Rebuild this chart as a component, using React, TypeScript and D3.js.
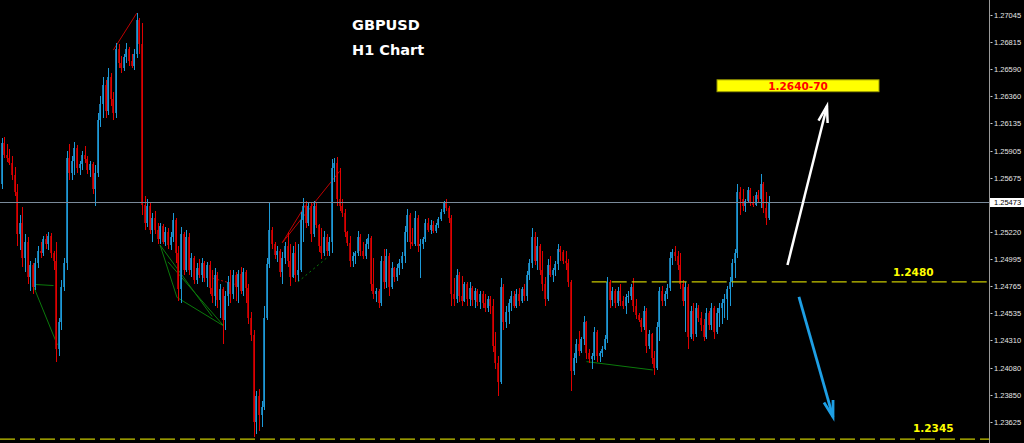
import React from 'react';
import * as d3 from 'd3';

const W = 1024;
const H = 443;

// ---- candle data (GBPUSD H1) ----
const opens = [
1.2562,1.2597,1.2587,1.2584,1.2580,1.2570,1.2556,1.2520,1.2530,1.2500,
1.2514,1.2484,1.2494,1.2476,1.2496,1.2506,1.2504,1.2516,1.2512,1.2519,
1.2504,1.2498,1.2424,1.2446,1.2476,1.2496,1.2584,1.2572,1.2582,1.2593,
1.2576,1.2579,1.2587,1.2583,1.2574,1.2579,1.2558,1.2572,1.2616,1.2630,
1.2646,1.2624,1.2652,1.2634,1.2622,1.2676,1.2664,1.2660,1.2669,1.2676,
1.2666,1.2662,1.2672,1.2700,1.2680,1.2545,1.2530,1.2544,1.2524,1.2534,
1.2524,1.2516,1.2527,1.2514,1.2522,1.2511,1.2518,1.2532,1.2504,1.2474,
1.2520,1.2490,1.2518,1.2490,1.2500,1.2482,1.2492,1.2486,1.2496,1.2483,
1.2494,1.2475,1.2468,1.2486,1.2465,1.2474,1.2448,1.2468,1.2480,1.2470,
1.2486,1.2476,1.2487,1.2472,1.2488,1.2475,1.2450,1.2435,1.2362,1.2384,
1.2368,1.2375,1.2450,1.2495,1.2524,1.2512,1.2503,1.2506,1.2488,1.2500,
1.2510,1.2498,1.2484,1.2504,1.2486,1.2490,1.2532,1.2544,1.2530,1.2544,
1.2520,1.2544,1.2528,1.2510,1.2504,1.2518,1.2506,1.2514,1.2576,1.2580,
1.2550,1.2544,1.2538,1.2522,1.2513,1.2498,1.2502,1.2504,1.2518,1.2506,
1.2502,1.2512,1.2517,1.2478,1.2470,1.2472,1.2462,1.2498,1.2480,1.2502,
1.2476,1.2492,1.2484,1.2492,1.2496,1.2502,1.2522,1.2536,1.2514,1.2512,
1.2534,1.2510,1.2512,1.2516,1.2530,1.2524,1.2528,1.2523,1.2528,1.2533,
1.2539,1.2546,1.2542,1.2534,1.2470,1.2466,1.2486,1.2468,1.2464,1.2478,
1.2466,1.2475,1.2465,1.2472,1.2463,1.2470,1.2462,1.2458,1.2466,1.2460,
1.2426,1.2412,1.2396,1.2476,1.2446,1.2455,1.2462,1.2468,1.2460,1.2470,
1.2464,1.2474,1.2468,1.2486,1.2496,1.2518,1.2498,1.2510,1.2490,1.2478,
1.2466,1.2494,1.2486,1.2490,1.2495,1.2508,1.2505,1.2498,1.2496,1.2480,
1.2405,1.2416,1.2428,1.2422,1.2432,1.2446,1.2420,1.2415,1.2418,1.2438,
1.2418,1.2420,1.2424,1.2432,1.2480,1.2465,1.2472,1.2462,1.2472,1.2464,
1.2460,1.2467,1.2468,1.2476,1.2460,1.2452,1.2448,1.2442,1.2456,1.2426,
1.2436,1.2416,1.2408,1.2442,1.2472,1.2464,1.2470,1.2475,1.2500,1.2505,
1.2502,1.2494,1.2478,1.2464,1.2476,1.2434,1.2456,1.2436,1.2458,1.2450,
1.2444,1.2434,1.2454,1.2444,1.2458,1.2438,1.2454,1.2458,1.2462,1.2466,
1.2474,1.2480,1.2496,1.2504,1.2556,1.2550,1.2544,1.2548,1.2557,1.2547,
1.2545,1.2553,1.2550,1.2562,1.2542,1.2534];

const highs = [
1.2601,1.2602,1.2596,1.2592,1.2586,1.2577,1.2562,1.2536,1.2543,1.2520,
1.2518,1.2498,1.2496,1.2500,1.2510,1.2514,1.2519,1.2520,1.2522,1.2521,
1.2506,1.2514,1.2450,1.2482,1.2500,1.2590,1.2596,1.2586,1.2598,1.2595,
1.2582,1.2590,1.2594,1.2586,1.2582,1.2581,1.2578,1.2622,1.2636,1.2652,
1.2650,1.2660,1.2656,1.2640,1.2681,1.2680,1.2670,1.2672,1.2681,1.2678,
1.2672,1.2676,1.2706,1.2702,1.2698,1.2552,1.2550,1.2546,1.2538,1.2540,
1.2530,1.2530,1.2529,1.2526,1.2525,1.2522,1.2538,1.2534,1.2510,1.2526,
1.2522,1.2524,1.2521,1.2504,1.2502,1.2496,1.2499,1.2500,1.2498,1.2497,
1.2498,1.2490,1.2492,1.2488,1.2478,1.2476,1.2472,1.2485,1.2490,1.2490,
1.2488,1.2490,1.2493,1.2492,1.2490,1.2478,1.2455,1.2440,1.2388,1.2390,
1.2380,1.2460,1.2500,1.2547,1.2526,1.2514,1.2510,1.2508,1.2505,1.2514,
1.2522,1.2512,1.2510,1.2514,1.2512,1.2539,1.2551,1.2548,1.2547,1.2546,
1.2548,1.2546,1.2529,1.2525,1.2523,1.2520,1.2518,1.2583,1.2584,1.2585,
1.2576,1.2550,1.2541,1.2523,1.2519,1.2505,1.2506,1.2523,1.2520,1.2514,
1.2516,1.2520,1.2519,1.2500,1.2475,1.2474,1.2502,1.2508,1.2508,1.2504,
1.2497,1.2493,1.2495,1.2499,1.2505,1.2527,1.2541,1.2538,1.2525,1.2540,
1.2536,1.2516,1.2518,1.2533,1.2534,1.2532,1.2531,1.2530,1.2535,1.2541,
1.2548,1.2550,1.2544,1.2536,1.2483,1.2491,1.2488,1.2485,1.2480,1.2480,
1.2480,1.2477,1.2475,1.2474,1.2472,1.2472,1.2470,1.2468,1.2468,1.2466,
1.2438,1.2418,1.2483,1.2478,1.2460,1.2466,1.2472,1.2472,1.2474,1.2475,
1.2476,1.2478,1.2489,1.2499,1.2525,1.2522,1.2518,1.2512,1.2506,1.2484,
1.2499,1.2502,1.2492,1.2498,1.2512,1.2510,1.2507,1.2506,1.2499,1.2482,
1.2420,1.2432,1.2439,1.2434,1.2451,1.2447,1.2424,1.2420,1.2442,1.2440,
1.2422,1.2426,1.2435,1.2484,1.2482,1.2476,1.2474,1.2476,1.2478,1.2468,
1.2470,1.2472,1.2478,1.2483,1.2466,1.2454,1.2450,1.2460,1.2458,1.2440,
1.2437,1.2422,1.2446,1.2476,1.2477,1.2472,1.2478,1.2505,1.2508,1.2510,
1.2506,1.2504,1.2482,1.2480,1.2478,1.2460,1.2462,1.2462,1.2461,1.2455,
1.2449,1.2458,1.2456,1.2462,1.2460,1.2458,1.2462,1.2466,1.2470,1.2477,
1.2484,1.2499,1.2508,1.2562,1.2560,1.2558,1.2550,1.2560,1.2559,1.2552,
1.2556,1.2557,1.2571,1.2564,1.2556,1.2552];

const lows = [
1.2558,1.2584,1.2581,1.2578,1.2566,1.2552,1.2510,1.2507,1.2493,1.2488,
1.2478,1.2472,1.2470,1.2473,1.2492,1.2500,1.2502,1.2508,1.2507,1.2500,
1.2490,1.2413,1.2418,1.2440,1.2472,1.2490,1.2566,1.2566,1.2570,1.2572,
1.2570,1.2574,1.2580,1.2571,1.2568,1.2554,1.2544,1.2568,1.2610,1.2618,
1.2618,1.2620,1.2628,1.2616,1.2618,1.2660,1.2656,1.2657,1.2664,1.2662,
1.2660,1.2658,1.2668,1.2672,1.2536,1.2524,1.2526,1.2520,1.2514,1.2520,
1.2512,1.2512,1.2512,1.2510,1.2508,1.2507,1.2514,1.2496,1.2464,1.2462,
1.2486,1.2488,1.2486,1.2484,1.2478,1.2478,1.2483,1.2480,1.2480,1.2476,
1.2470,1.2462,1.2460,1.2458,1.2450,1.2428,1.2440,1.2460,1.2462,1.2466,
1.2464,1.2462,1.2470,1.2468,1.2462,1.2445,1.2430,1.2350,1.2352,1.2355,
1.2358,1.2372,1.2448,1.2492,1.2508,1.2499,1.2497,1.2484,1.2478,1.2495,
1.2493,1.2477,1.2483,1.2480,1.2481,1.2488,1.2514,1.2525,1.2527,1.2514,
1.2518,1.2525,1.2505,1.2499,1.2502,1.2502,1.2502,1.2504,1.2564,1.2544,
1.2540,1.2535,1.2518,1.2510,1.2493,1.2493,1.2495,1.2502,1.2502,1.2499,
1.2499,1.2508,1.2472,1.2466,1.2463,1.2458,1.2460,1.2474,1.2475,1.2468,
1.2474,1.2480,1.2481,1.2486,1.2491,1.2496,1.2514,1.2508,1.2510,1.2510,
1.2505,1.2483,1.2508,1.2514,1.2522,1.2520,1.2521,1.2521,1.2525,1.2531,
1.2537,1.2540,1.2530,1.2460,1.2460,1.2462,1.2463,1.2460,1.2463,1.2460,
1.2460,1.2460,1.2458,1.2460,1.2457,1.2458,1.2455,1.2455,1.2453,1.2421,
1.2407,1.2384,1.2394,1.2440,1.2441,1.2445,1.2456,1.2458,1.2458,1.2460,
1.2462,1.2464,1.2464,1.2482,1.2492,1.2494,1.2490,1.2486,1.2472,1.2460,
1.2464,1.2484,1.2480,1.2485,1.2490,1.2498,1.2495,1.2490,1.2476,1.2388,
1.2402,1.2412,1.2418,1.2420,1.2427,1.2415,1.2412,1.2407,1.2414,1.2413,
1.2413,1.2417,1.2423,1.2429,1.2458,1.2460,1.2458,1.2460,1.2460,1.2457,
1.2453,1.2462,1.2465,1.2455,1.2449,1.2446,1.2438,1.2440,1.2420,1.2424,
1.2411,1.2402,1.2406,1.2430,1.2460,1.2460,1.2466,1.2472,1.2494,1.2498,
1.2490,1.2474,1.2460,1.2438,1.2424,1.2432,1.2430,1.2434,1.2446,1.2439,
1.2430,1.2432,1.2440,1.2440,1.2432,1.2436,1.2442,1.2445,1.2450,1.2448,
1.2460,1.2476,1.2483,1.2500,1.2536,1.2540,1.2539,1.2546,1.2544,1.2543,
1.2544,1.2546,1.2542,1.2538,1.2528,1.2532];

const closes = [
1.2597,1.2587,1.2584,1.2580,1.2570,1.2556,1.2520,1.2530,1.2500,1.2514,
1.2484,1.2494,1.2476,1.2496,1.2506,1.2504,1.2516,1.2512,1.2519,1.2504,
1.2498,1.2424,1.2446,1.2476,1.2496,1.2584,1.2572,1.2582,1.2593,1.2576,
1.2579,1.2587,1.2583,1.2574,1.2579,1.2558,1.2572,1.2616,1.2630,1.2646,
1.2624,1.2652,1.2634,1.2622,1.2676,1.2664,1.2660,1.2669,1.2676,1.2666,
1.2662,1.2672,1.2700,1.2680,1.2545,1.2530,1.2544,1.2524,1.2534,1.2524,
1.2516,1.2527,1.2514,1.2522,1.2511,1.2518,1.2532,1.2504,1.2474,1.2520,
1.2490,1.2518,1.2490,1.2500,1.2482,1.2492,1.2486,1.2496,1.2483,1.2494,
1.2475,1.2468,1.2486,1.2465,1.2474,1.2448,1.2468,1.2480,1.2470,1.2486,
1.2476,1.2487,1.2472,1.2488,1.2475,1.2450,1.2435,1.2362,1.2384,1.2368,
1.2375,1.2450,1.2495,1.2524,1.2512,1.2503,1.2506,1.2488,1.2500,1.2510,
1.2498,1.2484,1.2504,1.2486,1.2490,1.2532,1.2544,1.2530,1.2544,1.2520,
1.2544,1.2528,1.2510,1.2504,1.2518,1.2506,1.2514,1.2576,1.2580,1.2550,
1.2544,1.2538,1.2522,1.2513,1.2498,1.2502,1.2504,1.2518,1.2506,1.2502,
1.2512,1.2517,1.2478,1.2470,1.2472,1.2462,1.2498,1.2480,1.2502,1.2476,
1.2492,1.2484,1.2492,1.2496,1.2502,1.2522,1.2536,1.2514,1.2512,1.2534,
1.2510,1.2512,1.2516,1.2530,1.2524,1.2528,1.2523,1.2528,1.2533,1.2539,
1.2546,1.2542,1.2534,1.2470,1.2466,1.2486,1.2468,1.2464,1.2478,1.2466,
1.2475,1.2465,1.2472,1.2463,1.2470,1.2462,1.2458,1.2466,1.2460,1.2426,
1.2412,1.2396,1.2476,1.2446,1.2455,1.2462,1.2468,1.2460,1.2470,1.2464,
1.2474,1.2468,1.2486,1.2496,1.2518,1.2498,1.2510,1.2490,1.2478,1.2466,
1.2494,1.2486,1.2490,1.2495,1.2508,1.2505,1.2498,1.2496,1.2480,1.2405,
1.2416,1.2428,1.2422,1.2432,1.2446,1.2420,1.2415,1.2418,1.2438,1.2418,
1.2420,1.2424,1.2432,1.2480,1.2465,1.2472,1.2462,1.2472,1.2464,1.2460,
1.2467,1.2468,1.2476,1.2460,1.2452,1.2448,1.2442,1.2456,1.2426,1.2436,
1.2416,1.2408,1.2442,1.2472,1.2464,1.2470,1.2475,1.2500,1.2505,1.2502,
1.2494,1.2478,1.2464,1.2476,1.2434,1.2456,1.2436,1.2458,1.2450,1.2444,
1.2434,1.2454,1.2444,1.2458,1.2438,1.2454,1.2458,1.2462,1.2466,1.2474,
1.2480,1.2496,1.2504,1.2556,1.2550,1.2544,1.2548,1.2557,1.2547,1.2545,
1.2553,1.2550,1.2562,1.2542,1.2534,1.25473];

// ---- axis ----
const yTicks = [1.27045,1.26815,1.26590,1.26360,1.26135,1.25905,1.25675,
  1.25220,1.24995,1.24765,1.24535,1.24310,1.24080,1.23850,1.23625];
const currentPrice = 1.25473;
const currentPriceLabel = '1.25473';

// ---- levels / annotations (candle index, price) ----
const resistanceLevel = 1.2480;
const resistanceLabel = '1.2480';
const resistanceStartIndex = 227;
const supportLevel = 1.23478;
const supportLabel = '1.2345';
const targetZone = [1.2640, 1.2650];
const targetIndexRange = [275.2, 337.5];
const targetLabel = '1.2640-70';
const upArrow = [[302.3, 1.24943], [317.5, 1.2628]];
const downArrow = [[306.7, 1.24674], [319.8, 1.23665]];

const redTrendLines = [
  [43, 1.2675, 52, 1.2706],
  [108, 1.2513, 117, 1.2545],
  [108, 1.2513, 130, 1.2573],
];
const redDottedLines = [[81.5, 1.2483, 91.5, 1.2477]];
const greenTrendLines = [
  [12, 1.2478, 20, 1.2477],
  [12, 1.2478, 21.5, 1.2427],
  [61, 1.2511, 67.5, 1.2467],
  [61, 1.2511, 81, 1.2451],
  [67.5, 1.2467, 85.5, 1.2443],
  [64, 1.2497, 85.5, 1.2443],
  [225, 1.2413, 250.5, 1.2406],
];
const greenDottedLines = [[114, 1.2480, 125.5, 1.2501]];

const titleLines = ['GBPUSD', 'H1 Chart'];

export default function App() {
  const N = closes.length;
  const axisX = 989.5;
  const x = d3.scaleLinear().domain([0, N - 1]).range([1.5, 1.5 + 2.6 * (N - 1)]);
  const y = d3.scaleLinear().domain([1.23625, 1.27045]).range([421.7, 15]);

  const upWick = '#1c9ad8';
  const upBody = '#1a78aa';
  const dnWick = '#e00000';
  const dnBody = '#a80000';

  const arrowHead = (p0: number[], p1: number[], len: number, ang: number) => {
    const x0 = x(p0[0]), y0 = y(p0[1]), x1 = x(p1[0]), y1 = y(p1[1]);
    const a = Math.atan2(y0 - y1, x0 - x1);
    const w1 = [x1 + len * Math.cos(a + ang), y1 + len * Math.sin(a + ang)];
    const w2 = [x1 + len * Math.cos(a - ang), y1 + len * Math.sin(a - ang)];
    return `M${w1[0]},${w1[1]}L${x1},${y1}L${w2[0]},${w2[1]}`;
  };

  const seg = (s: number[]) => ({ x1: x(s[0]), y1: y(s[1]), x2: x(s[2]), y2: y(s[3]) });

  return (
    <svg width={W} height={H} style={{ position: 'absolute', left: 0, top: 0, display: 'block', background: '#000' }}>
      <rect x={0} y={0} width={W} height={H} fill="#000" />

      {/* pattern lines */}
      {greenTrendLines.map((s, i) => (
        <line key={'g' + i} {...seg(s)} stroke="#0b7a0b" strokeWidth={1} />
      ))}
      {greenDottedLines.map((s, i) => (
        <line key={'gd' + i} {...seg(s)} stroke="#0b7a0b" strokeWidth={1} strokeDasharray="2,3" />
      ))}
      {redTrendLines.map((s, i) => (
        <line key={'r' + i} {...seg(s)} stroke="#c00000" strokeWidth={1} />
      ))}
      {redDottedLines.map((s, i) => (
        <line key={'rd' + i} {...seg(s)} stroke="#c00000" strokeWidth={1} strokeDasharray="2,2" />
      ))}

      {/* candles */}
      <g shapeRendering="crispEdges">
        {closes.map((c, i) => {
          const o = opens[i];
          const up = c >= o;
          const cx = Math.round(x(i));
          const yh = y(highs[i]);
          const yl = y(lows[i]);
          const yt = y(Math.max(o, c));
          const yb = y(Math.min(o, c));
          return (
            <g key={i}>
              <rect x={cx} y={yh} width={1} height={Math.max(1, yl - yh)} fill={up ? upWick : dnWick} />
              <rect x={cx - 1} y={yt} width={2} height={Math.max(1, yb - yt)} fill={up ? upBody : dnBody} />
              <rect x={cx} y={yt} width={1} height={Math.max(1, yb - yt)} fill={up ? upWick : dnWick} />
            </g>
          );
        })}
      </g>

      {/* current price line */}
      <line x1={0} x2={axisX} y1={Math.round(y(currentPrice)) + 0.5} y2={Math.round(y(currentPrice)) + 0.5} stroke="#7a8a9a" strokeWidth={1} />

      {/* resistance dashed line */}
      <line x1={x(resistanceStartIndex)} x2={axisX} y1={y(resistanceLevel)} y2={y(resistanceLevel)}
        stroke="#c8c800" strokeWidth={1.3} strokeDasharray="15,5" />
      <text x={893} y={y(resistanceLevel) - 5.5} fill="#ffff00" fontFamily="'DejaVu Sans', Verdana, sans-serif"
        fontWeight="bold" fontSize={10.5}>{resistanceLabel}</text>

      {/* support dashed line */}
      <line x1={0} x2={axisX} y1={y(supportLevel)} y2={y(supportLevel)}
        stroke="#c8c800" strokeWidth={1.3} strokeDasharray="15,5" />
      <text x={913} y={y(supportLevel) - 7} fill="#ffff00" fontFamily="'DejaVu Sans', Verdana, sans-serif"
        fontWeight="bold" fontSize={10.5}>{supportLabel}</text>

      {/* target zone */}
      <rect x={x(targetIndexRange[0])} y={y(targetZone[1])} width={x(targetIndexRange[1]) - x(targetIndexRange[0])}
        height={y(targetZone[0]) - y(targetZone[1])} fill="#ffff00" stroke="#9a9a00" strokeWidth={1} />
      <text x={(x(targetIndexRange[0]) + x(targetIndexRange[1])) / 2} y={y(targetZone[0]) - 2}
        textAnchor="middle" fill="#ff0000" fontFamily="'DejaVu Sans', Verdana, sans-serif" fontWeight="bold" fontSize={10.5}>
        {targetLabel}
      </text>

      {/* arrows */}
      <line x1={x(upArrow[0][0])} y1={y(upArrow[0][1])} x2={x(upArrow[1][0])} y2={y(upArrow[1][1])}
        stroke="#ffffff" strokeWidth={2.5} />
      <path d={arrowHead(upArrow[0], upArrow[1], 17, 0.28)} fill="none" stroke="#ffffff" strokeWidth={2.5} />
      <line x1={x(downArrow[0][0])} y1={y(downArrow[0][1])} x2={x(downArrow[1][0])} y2={y(downArrow[1][1])}
        stroke="#1e9fe4" strokeWidth={2.8} />
      <path d={arrowHead(downArrow[0], downArrow[1], 17, 0.28)} fill="none" stroke="#1e9fe4" strokeWidth={2.8} />

      {/* title */}
      {titleLines.map((t, i) => (
        <text key={t} x={352} y={30 + i * 25} fill="#ffffff" fontFamily="'DejaVu Sans', Verdana, sans-serif"
          fontWeight="bold" fontSize={14.5}>{t}</text>
      ))}

      {/* price axis */}
      <line x1={axisX} x2={axisX} y1={0} y2={H} stroke="#9a9a9a" strokeWidth={1} />
      {yTicks.map((t) => {
        const ty = Math.round(y(t)) + 0.5;
        return (
          <g key={t}>
            <line x1={axisX + 1} x2={axisX + 3} y1={ty} y2={ty} stroke="#cfcfcf" strokeWidth={1} />
            <text x={994} y={ty} dy="0.35em" fill="#e6e6e6" fontFamily="'Liberation Sans', Arial, sans-serif" fontSize={7.5}>
              {t.toFixed(5)}
            </text>
          </g>
        );
      })}
      <rect x={990} y={Math.round(y(currentPrice)) - 4} width={34} height={9} fill="#ffffff" />
      <text x={994} y={Math.round(y(currentPrice)) + 0.5} dy="0.35em" fill="#000000"
        fontFamily="'Liberation Sans', Arial, sans-serif" fontSize={7.5}>{currentPriceLabel}</text>
    </svg>
  );
}
